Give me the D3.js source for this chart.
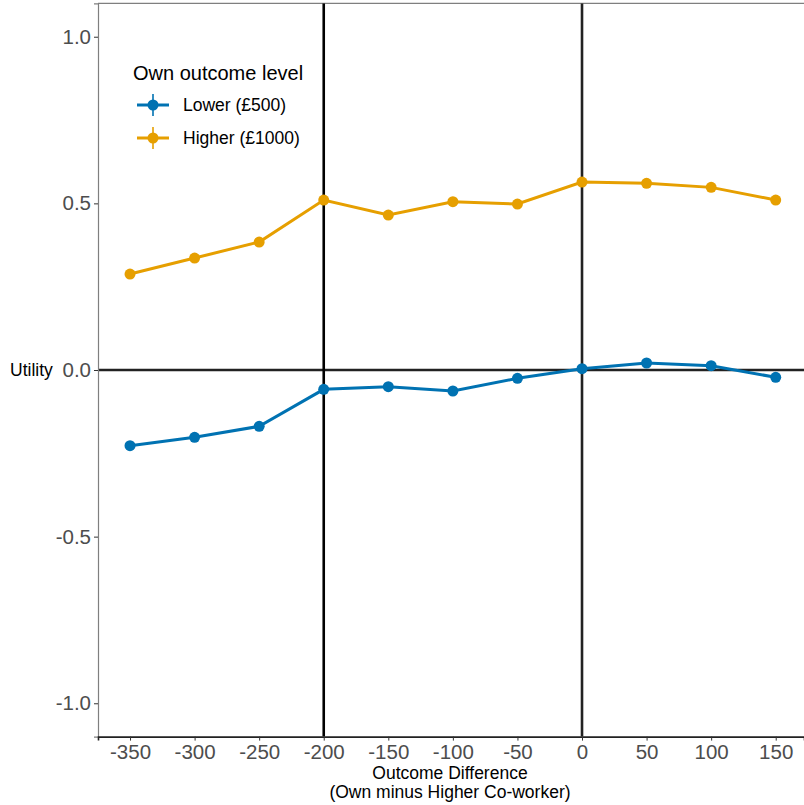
<!DOCTYPE html>
<html><head><meta charset="utf-8">
<script src="https://cdn.jsdelivr.net/npm/d3@7"></script>
<style>body{margin:0;background:#fff;} svg{display:block;font-family:"Liberation Sans",Arial,sans-serif;}</style>
</head><body>
<script>
const xVals = [-350,-300,-250,-200,-150,-100,-50,0,50,100,150];
const lowerVals = [-0.227,-0.202,-0.169,-0.058,-0.050,-0.063,-0.025,0.004,0.021,0.013,-0.022];
const higherVals = [0.288,0.336,0.384,0.510,0.465,0.505,0.498,0.564,0.560,0.548,0.510];
const seriesNames = ["Lower (£500)","Higher (£1000)"];
const seriesColors = ["#0072B2","#E69F00"];
const yTicks = [-1.0,-0.5,0.0,0.5,1.0];
const vLines = [-200,0];

(function(){
const W=804,H=805;
const svg=d3.select("body").append("svg").attr("width",W).attr("height",H);
const pL=98, pR=804, pT=3.4, pB=736.6;
const x=d3.scaleLinear().domain([-374.8,171.9]).range([pL,pR]);
const y=d3.scaleLinear().domain([-1.1,1.1]).range([pB,pT]);

svg.append("line").attr("x1",pL).attr("x2",pR).attr("y1",pT).attr("y2",pT).attr("stroke","#7f7f7f").attr("stroke-width",1.2);

svg.append("line").attr("x1",pL).attr("x2",pR).attr("y1",y(0)).attr("y2",y(0)).attr("stroke","#222").attr("stroke-width",2.6);
vLines.forEach((v,i)=>{
  svg.append("line").attr("x1",x(v)).attr("x2",x(v)).attr("y1",pT).attr("y2",pB).attr("stroke",i===0?"#000":"#222").attr("stroke-width",2.6);
});

const yAxis=svg.append("g").attr("transform",`translate(${pL},0)`).call(d3.axisLeft(y).tickValues(yTicks).tickSize(4).tickPadding(3));
yAxis.select(".domain").attr("stroke","#7f7f7f").attr("stroke-width",1.2);
yAxis.selectAll(".tick line").attr("stroke","#333");
yAxis.selectAll(".tick text").attr("fill","#4d4d4d").attr("font-size","20.5px").attr("font-family","Liberation Sans, Arial, sans-serif").text(d=>d3.format(".1f")(d).replace("−","-"));

const xAxis=svg.append("g").attr("transform",`translate(0,${pB})`).call(d3.axisBottom(x).tickValues(xVals).tickSize(4).tickPadding(4));
xAxis.select(".domain").attr("stroke","#222").attr("stroke-width",1.6);
xAxis.selectAll(".tick line").attr("stroke","#333");
xAxis.selectAll(".tick text").attr("fill","#4d4d4d").attr("font-size","20.5px").attr("font-family","Liberation Sans, Arial, sans-serif").text(d=>String(d));

const series=[lowerVals,higherVals];
const line=d3.line().x((d,i)=>x(xVals[i])).y(d=>y(d));
series.forEach((vals,si)=>{
  svg.append("path").datum(vals).attr("d",line).attr("fill","none").attr("stroke",seriesColors[si]).attr("stroke-width",3);
  svg.selectAll(null).data(vals).enter().append("circle").attr("cx",(d,i)=>x(xVals[i])).attr("cy",d=>y(d)).attr("r",5.5).attr("fill",seriesColors[si]);
});

svg.append("text").attr("x",10).attr("y",376).attr("font-size","17.5px").attr("fill","#000").text("Utility");
svg.append("text").attr("x",450).attr("y",779).attr("text-anchor","middle").attr("font-size","17.5px").attr("fill","#000").text("Outcome Difference");
svg.append("text").attr("x",450).attr("y",798).attr("text-anchor","middle").attr("font-size","17.5px").attr("fill","#000").text("(Own minus Higher Co-worker)");

const lg=svg.append("g");
lg.append("text").attr("x",133).attr("y",80).attr("font-size","20px").attr("fill","#000").text("Own outcome level");
seriesNames.forEach((n,i)=>{
  const cy=105+i*33;
  lg.append("line").attr("x1",137).attr("x2",169).attr("y1",cy).attr("y2",cy).attr("stroke",seriesColors[i]).attr("stroke-width",3);
  lg.append("line").attr("x1",153).attr("x2",153).attr("y1",cy-11).attr("y2",cy+11).attr("stroke",seriesColors[i]).attr("stroke-width",1.6);
  lg.append("circle").attr("cx",153).attr("cy",cy).attr("r",5.5).attr("fill",seriesColors[i]);
  lg.append("text").attr("x",183).attr("y",cy+6).attr("font-size","17.5px").attr("fill","#000").text(n);
});
})();
</script>
</body></html>
